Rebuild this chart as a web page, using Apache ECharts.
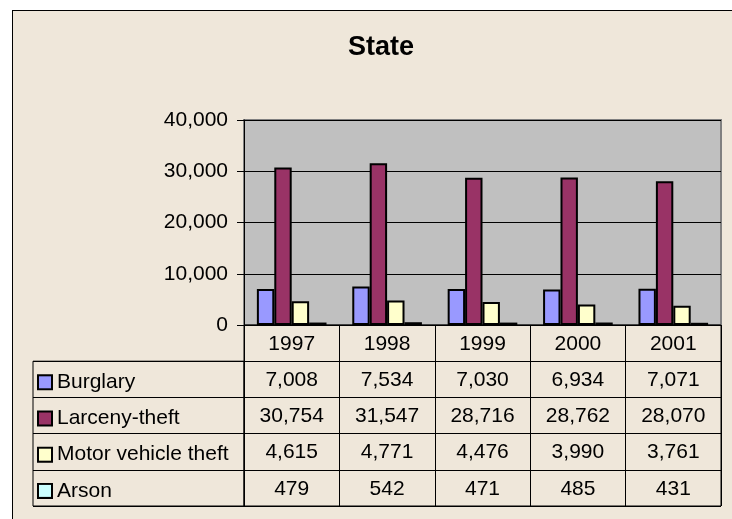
<!DOCTYPE html>
<html lang="en">
    <head>
        <meta charset="UTF-8">
        <title>State</title>
        <style type="text/css">
            html, body {margin: 0px; padding: 0px; background-color: #ffffff; overflow: hidden;}
            #frame {position: absolute; left: 12px; top: 10px; width: 800px; height: 600px;
                    border-left: 1px solid #000; border-top: 1px solid #000; background-color: #EFE7DA;}
            #main {position: absolute; left: 0px; top: 0px; width: 732px; height: 519px;}
        </style>
        <script src="https://cdn.jsdelivr.net/npm/echarts@6/dist/echarts.min.js"></script>
    </head>
    <body>
        <div id="frame"></div>
        <div id="main"></div>
        <script type="text/javascript">
            // chart data
            var years = ['1997', '1998', '1999', '2000', '2001'];
            var seriesNames = ['Burglary', 'Larceny-theft', 'Motor vehicle theft', 'Arson'];
            var burglary = [7008, 7534, 7030, 6934, 7071];
            var larceny = [30754, 31547, 28716, 28762, 28070];
            var motorTheft = [4615, 4771, 4476, 3990, 3761];
            var arson = [479, 542, 471, 485, 431];
            var yTicks = [0, 10000, 20000, 30000, 40000];

            var seriesData = [burglary, larceny, motorTheft, arson];
            var colors = ['#9999FF', '#993366', '#FFFFCC', '#CCFFFF'];
            var fontFam = 'Liberation Sans, Arial, sans-serif';

            function fmt(v) {
                return v.toLocaleString('en-US');
            }

            // cells of the data table: header row with years, then one row per series
            var cells = [];
            for (var i = 0; i < years.length; i++) {
                cells.push({x: i, y: 0, text: years[i]});
            }
            for (var s = 0; s < seriesData.length; s++) {
                for (var i = 0; i < years.length; i++) {
                    cells.push({x: i, y: s + 1, text: fmt(seriesData[s][i])});
                }
            }

            var rich = {t: {fontSize: 21, fontFamily: fontFam, color: '#000', padding: [0, 0, 0, 6], verticalAlign: 'middle'}};
            for (var s = 0; s < colors.length; s++) {
                rich['s' + s] = {width: 12, height: 12, backgroundColor: colors[s],
                                 borderColor: '#000', borderWidth: 2, verticalAlign: 'middle'};
            }

            var barSeries = seriesData.map(function (d, s) {
                return {
                    name: seriesNames[s],
                    type: 'bar',
                    xAxisIndex: 0,
                    yAxisIndex: 0,
                    data: d,
                    barGap: '0%',
                    barCategoryGap: '27%',
                    itemStyle: {color: colors[s], borderColor: '#000', borderWidth: 2},
                    emphasis: {disabled: true}
                };
            });

            var tableSeries = {
                type: 'custom',
                coordinateSystem: 'cartesian2d',
                xAxisIndex: 1,
                yAxisIndex: 1,
                silent: true,
                data: cells.map(function (c) { return [c.x, c.y]; }),
                renderItem: function (params, api) {
                    var p = api.coord([api.value(0), api.value(1)]);
                    return {
                        type: 'text',
                        x: p[0],
                        y: p[1] + 1,
                        style: {
                            text: cells[params.dataIndex].text,
                            fontSize: 21,
                            fontFamily: fontFam,
                            fill: '#000',
                            align: 'center',
                            verticalAlign: 'middle'
                        }
                    };
                }
            };

            var myChart = echarts.init(document.getElementById('main'), null, {renderer: 'canvas'});
            var option = {
                animation: false,
                backgroundColor: 'transparent',
                title: {
                    text: 'State',
                    left: 343,
                    top: 29,
                    textStyle: {fontSize: 27, fontWeight: 'bold', fontFamily: fontFam, color: '#000'}
                },
                grid: [
                    {left: 244, top: 120, width: 477, height: 205, show: true,
                     backgroundColor: '#C0C0C0', borderColor: '#808080', borderWidth: 2},
                    {left: 244, top: 325, width: 477, height: 181, show: true,
                     backgroundColor: 'transparent', borderColor: '#000', borderWidth: 1},
                    {left: 33, top: 361.2, width: 211, height: 144.8, show: true,
                     backgroundColor: 'transparent', borderColor: '#000', borderWidth: 1}
                ],
                xAxis: [
                    {type: 'category', gridIndex: 0, data: years,
                     axisLine: {lineStyle: {color: '#000', width: 1}},
                     axisTick: {show: false}, axisLabel: {show: false}, splitLine: {show: false}},
                    {type: 'category', gridIndex: 1, data: years,
                     axisLine: {show: false}, axisTick: {show: false}, axisLabel: {show: false},
                     splitLine: {show: true, interval: 0, lineStyle: {color: '#000', width: 1}}},
                    {type: 'value', gridIndex: 2, show: false}
                ],
                yAxis: [
                    {type: 'value', gridIndex: 0, min: yTicks[0], max: yTicks[yTicks.length - 1],
                     interval: yTicks[1] - yTicks[0],
                     axisLine: {show: true, lineStyle: {color: '#000', width: 1}},
                     axisTick: {show: true, length: 7, lineStyle: {color: '#000'}},
                     axisLabel: {margin: 16, fontSize: 21, fontFamily: fontFam, color: '#000',
                                 formatter: function (v) { return fmt(v); }},
                     splitLine: {show: true, lineStyle: {color: '#000', width: 1}}},
                    {type: 'category', gridIndex: 1, inverse: true, data: ['Year'].concat(seriesNames),
                     axisLine: {show: false}, axisTick: {show: false}, axisLabel: {show: false},
                     splitLine: {show: true, interval: 0, lineStyle: {color: '#000', width: 1}}},
                    {type: 'category', gridIndex: 2, inverse: true, data: seriesNames,
                     axisLine: {show: false}, axisTick: {show: false},
                     axisLabel: {inside: true, margin: 6, align: 'left', interval: 0, padding: [6, 0, 0, 0],
                                 formatter: function (v, idx) { return '{s' + idx + '|}{t|' + v + '}'; },
                                 rich: rich},
                     splitLine: {show: true, interval: 0, lineStyle: {color: '#000', width: 1}}}
                ],
                series: barSeries.concat([tableSeries])
            };
            myChart.setOption(option);
        </script>
    </body>
</html>
